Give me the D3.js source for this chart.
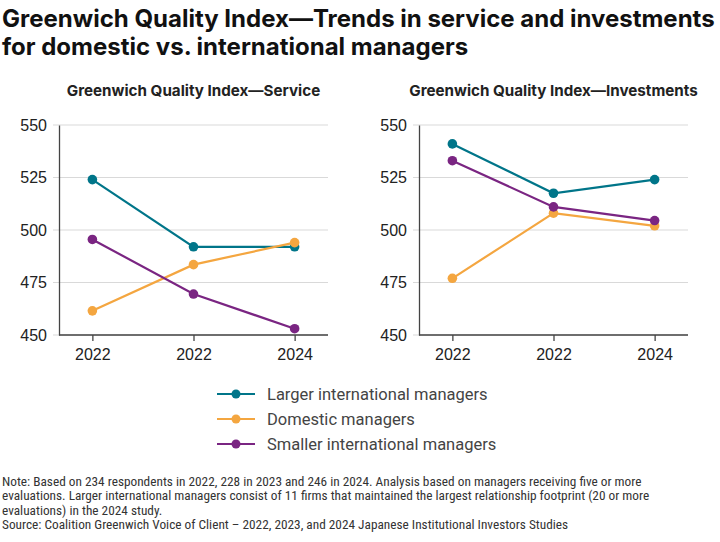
<!DOCTYPE html>
<html>
<head>
<meta charset="utf-8">
<style>
  body { margin: 0; background: #fff; }
  svg { display: block; font-family: Roboto, "Liberation Sans", sans-serif; }
  .title { font-family: Inter, Roboto, sans-serif; font-weight: 700; font-size: 24px; fill: #111; }
  .sub { font-family: Inter, Roboto, sans-serif; font-weight: 700; font-size: 15.2px; fill: #222; }
  .tick text { font-size: 16px; fill: #222; }
  .legend text { font-size: 16.5px; fill: #444; }
  .note { font-family: "Liberation Sans Narrow", "Roboto Condensed", Roboto, sans-serif; font-size: 13.3px; fill: #333; }
</style>
</head>
<body>
<script src="https://cdn.jsdelivr.net/npm/d3@7"></script>
<script>
// data
var years = ["2022", "2022", "2024"]   // labels as printed in the original
var seriesNames = ["Larger international managers", "Domestic managers", "Smaller international managers"]
var colors = ["#007589", "#f4a640", "#7a2582"]

var serviceLarger = [524, 492, 492]
var serviceDomestic = [461.5, 483.5, 494]
var serviceSmaller = [495.5, 469.5, 453]

var investLarger = [541, 517.5, 524]
var investDomestic = [477, 508, 502]
var investSmaller = [533, 511, 504.5]

var yTicks = [450, 475, 500, 525, 550]

var noteLines = [
  "Note: Based on 234 respondents in 2022, 228 in 2023 and 246 in 2024. Analysis based on managers receiving five or more",
  "evaluations. Larger international managers consist of 11 firms that maintained the largest relationship footprint (20 or more",
  "evaluations) in the 2024 study.",
  "Source: Coalition Greenwich Voice of Client \u2013 2022, 2023, and 2024 Japanese Institutional Investors Studies"
]

var w = 720, h = 542

var svg = d3.select("body").append("svg")
    .attr("width", w)
    .attr("height", h)

// title
svg.append("text").attr("class", "title").attr("x", 2).attr("y", 27)
    .text("Greenwich Quality Index\u2014Trends in service and investments")
svg.append("text").attr("class", "title").attr("x", 2).attr("y", 55)
    .text("for domestic vs. international managers")

var panels = [
  { left: 59, title: "Greenwich Quality Index\u2014Service", series: [serviceLarger, serviceDomestic, serviceSmaller] },
  { left: 419, title: "Greenwich Quality Index\u2014Investments", series: [investLarger, investDomestic, investSmaller] }
]

var plotW = 269, plotTop = 125, plotBottom = 335

var y = d3.scaleLinear().domain([450, 550]).range([plotBottom, plotTop])

panels.forEach(function(p) {
  var g = svg.append("g").attr("transform", "translate(" + p.left + ",0)")

  var x = d3.scalePoint()
      .domain(d3.range(years.length))
      .range([0, plotW])
      .padding(0.33)

  g.append("text").attr("class", "sub")
      .attr("x", x(1)).attr("y", 96)
      .attr("text-anchor", "middle")
      .text(p.title)

  // gridlines
  g.selectAll("line.grid").data(yTicks).enter().append("line")
      .attr("class", "grid")
      .attr("x1", -6).attr("x2", plotW)
      .attr("y1", function(d) { return y(d) }).attr("y2", function(d) { return y(d) })
      .attr("stroke", "#d9d9d9").attr("stroke-width", 1)

  // y axis
  var yAxis = d3.axisLeft(y).tickValues(yTicks).tickSize(0).tickPadding(12)
  var ya = g.append("g").call(yAxis)
  ya.select(".domain").attr("stroke", "#444").attr("stroke-width", 1.3)

  // x axis
  var xAxis = d3.axisBottom(x).tickSize(6).tickPadding(8)
      .tickFormat(function(i) { return years[i] })
  var xa = g.append("g").attr("transform", "translate(0," + plotBottom + ")").call(xAxis)
  xa.select(".domain").attr("d", "M0,0H" + plotW).attr("stroke", "#444").attr("stroke-width", 1.3)
  xa.selectAll(".tick line").attr("stroke", "#444").attr("stroke-width", 1.3)

  var line = d3.line()
      .x(function(d, i) { return x(i) })
      .y(function(d) { return y(d) })

  p.series.forEach(function(vals, si) {
    g.append("path")
        .datum(vals)
        .attr("d", line)
        .attr("fill", "none")
        .attr("stroke", colors[si])
        .attr("stroke-width", 2.2)
    g.selectAll("circle.s" + si).data(vals).enter().append("circle")
        .attr("class", "s" + si)
        .attr("cx", function(d, i) { return x(i) })
        .attr("cy", function(d) { return y(d) })
        .attr("r", 4.8)
        .attr("fill", colors[si])
  })
})

// legend
var legend = svg.append("g").attr("class", "legend").attr("transform", "translate(217,394)")
seriesNames.forEach(function(name, i) {
  var row = legend.append("g").attr("transform", "translate(0," + (i * 25) + ")")
  row.append("line").attr("x1", 0).attr("x2", 38).attr("y1", 0).attr("y2", 0)
      .attr("stroke", colors[i]).attr("stroke-width", 2.2)
  row.append("circle").attr("cx", 19).attr("cy", 0).attr("r", 4.5).attr("fill", colors[i])
  row.append("text").attr("x", 50).attr("y", 0).attr("dy", "0.35em").text(name)
})

// notes
svg.selectAll("text.note").data(noteLines).enter().append("text")
    .attr("class", "note")
    .attr("x", 2)
    .attr("y", function(d, i) { return 486 + i * 14.3 })
    .text(function(d) { return d })
</script>
</body>
</html>
